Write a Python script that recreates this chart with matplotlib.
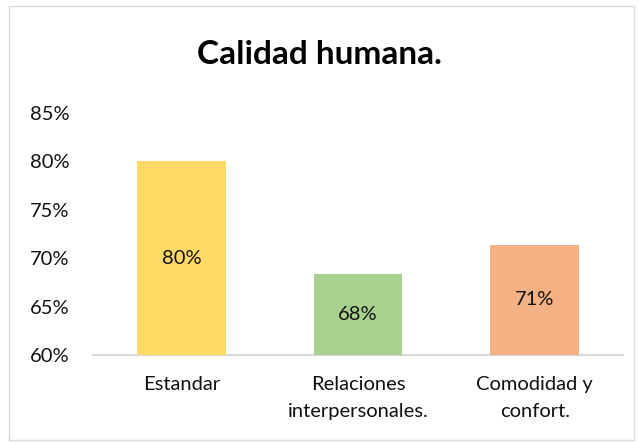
import matplotlib
matplotlib.use("Agg")
import matplotlib.pyplot as plt
from matplotlib.patches import Rectangle

categories = ["Estandar", "Relaciones\ninterpersonales.", "Comodidad y\nconfort."]
values = [0.80, 0.684, 0.714]
value_labels = ["80%", "68%", "71%"]
colors = ["#FFD966", "#A9D18E", "#F4B183"]
yticks = [0.60, 0.65, 0.70, 0.75, 0.80, 0.85]
ytick_labels = ["60%", "65%", "70%", "75%", "80%", "85%"]

plt.rcParams['font.family'] = ['Lato', 'DejaVu Sans']

W, H = 639, 442
fig = plt.figure(figsize=(W/100, H/100), dpi=100)
fig.patches.append(Rectangle((9/W, 2/H), (634-9)/W, (436-2)/H, transform=fig.transFigure,
                             fill=False, edgecolor="#D9D9D9", linewidth=1))

ax = fig.add_axes([93/W, 1-355/H, (623-93)/W, (355-113)/H])
x = range(len(categories))
bars = ax.bar(x, [v - 0.60 for v in values], bottom=0.60, width=0.5, color=colors,
              edgecolor="none", zorder=3)
for b, lab in zip(bars, value_labels):
    ax.text(b.get_x() + b.get_width()/2, b.get_y() + b.get_height()/2, lab,
            ha="center", va="center", fontsize=14.5, color="#111111", zorder=4)

ax.set_xlim(-0.5, 2.5)
ax.set_ylim(0.60, 0.85)
ax.set_yticks(yticks)
ax.set_yticklabels(ytick_labels, fontsize=14.5, color="#111111")
ax.set_xticks(list(x))
ax.set_xticklabels(categories, fontsize=14.5, color="#111111", linespacing=1.75)
ax.tick_params(axis="both", length=0)
ax.tick_params(axis="y", pad=17)
ax.tick_params(axis="x", pad=15)
for s in ["top", "right", "left"]:
    ax.spines[s].set_visible(False)
ax.spines["bottom"].set_color("#D9D9D9")
ax.spines["bottom"].set_linewidth(1.5)

fig.text(0.5, 1-55/H, "Calidad humana.", ha="center", va="center",
         fontsize=24, fontweight="bold", color="black")

fig.savefig("out.png", dpi=100)
